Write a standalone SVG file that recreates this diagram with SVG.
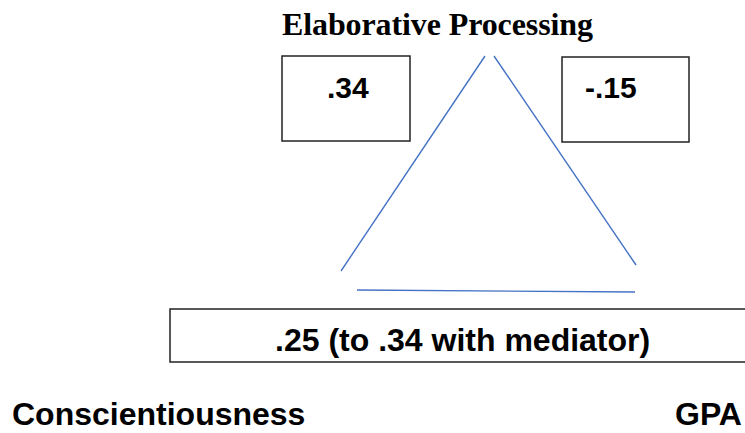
<svg xmlns="http://www.w3.org/2000/svg" width="745" height="433" viewBox="0 0 745 433">
<style>
.box{fill:#fff;stroke:#222;stroke-width:1.5}
.lbl{font-family:"Liberation Sans",Arial,sans-serif;font-weight:bold;fill:#000}
.ser{font-family:"Liberation Serif","Times New Roman",serif;font-weight:bold;fill:#000}
.edge{stroke:#4472C4;stroke-width:1.4;fill:none}
</style>
<rect width="745" height="433" fill="#fff"/>
<g id="connectors">
<line class="edge" x1="341" y1="271" x2="485" y2="56"/>
<line class="edge" x1="494" y1="56" x2="636" y2="265"/>
<line class="edge" x1="357" y1="290" x2="635" y2="292"/>
</g>
<g id="mediator">
<text class="ser" x="282" y="35" font-size="32" textLength="311">Elaborative Processing</text>
</g>
<g id="path-a">
<rect class="box" x="282" y="56" width="128" height="85"/>
<text class="lbl" x="327" y="98" font-size="30">.34</text>
</g>
<g id="path-b">
<rect class="box" x="562" y="57" width="127" height="85"/>
<text class="lbl" x="585" y="98" font-size="30">-.15</text>
</g>
<g id="path-c">
<rect class="box" x="170" y="309" width="600" height="53"/>
<text class="lbl" x="275" y="351" font-size="32">.25 (to .34 with mediator)</text>
</g>
<g id="predictor">
<text class="lbl" x="12" y="425" font-size="32">Conscientiousness</text>
</g>
<g id="outcome">
<text class="lbl" x="675" y="425" font-size="32">GPA</text>
</g>
</svg>
